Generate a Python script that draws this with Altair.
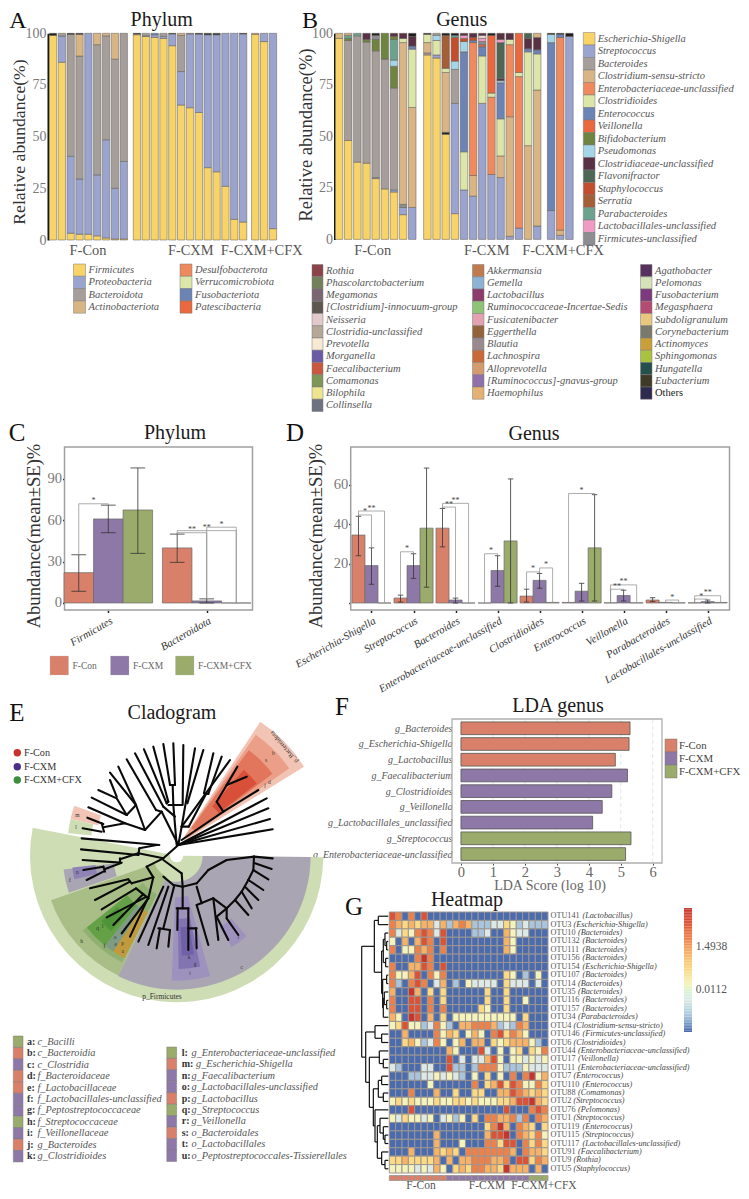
import json, math
import altair as alt
import pandas as pd
import numpy as np

FONT = "Liberation Serif"
W, H = 733, 1183
layers = []
ONE = pd.DataFrame({"a": [0]})

def sc(dom, rng):
    return alt.Scale(domain=list(dom), range=list(rng), nice=False, zero=False)

class P:
    def __init__(s, x0, x1, y0, y1, xdom, ydom):
        s.xs = sc(xdom, [x0 - 8, x1 - 8]); s.ys = sc(ydom, [y1 - 8, y0 - 8])
        s.x0, s.x1, s.y0, s.y1 = x0, x1, y0, y1
        s.xdom, s.ydom = xdom, ydom
    def X(s, f, **k): return alt.X(f + ":Q", scale=s.xs, axis=k.pop("axis", None), **k)
    def Y(s, f, **k): return alt.Y(f + ":Q", scale=s.ys, axis=k.pop("axis", None), **k)

def text(t, x, y, size=12, color="#333", style="normal", angle=0, align="center", weight="normal"):
    layers.append(alt.Chart(ONE).mark_text(text=t, font=FONT, fontSize=size, color=color, fontStyle=style,
        angle=angle, align=align, baseline="middle", fontWeight=weight).encode(x=alt.value(x - 8), y=alt.value(y - 8)))

def rects(p, df, stroke="#777", sw=0.6, fillf="c", **enc):
    layers.append(alt.Chart(df).mark_rect(stroke=stroke, strokeWidth=sw).encode(
        x=p.X("x0"), x2=alt.X2("x1"), y=p.Y("y0"), y2=alt.Y2("y1"),
        fill=alt.Fill(fillf + ":N", scale=None)))

def rules(p, rows, color="#222", sw=1.0, cap="butt", dash=None):
    df = pd.DataFrame(rows, columns=["x0", "y0", "x1", "y1"])
    kw = {"strokeDash": dash} if dash else {}
    layers.append(alt.Chart(df).mark_rule(color=color, strokeWidth=sw, strokeCap=cap, **kw).encode(
        x=p.X("x0"), x2=alt.X2("x1"), y=p.Y("y0"), y2=alt.Y2("y1")))

def frame(p, color="#A0A0A0", sw=1.5):
    df = pd.DataFrame({"x0": [p.xdom[0]], "x1": [p.xdom[1]], "y0": [p.ydom[0]], "y1": [p.ydom[1]]})
    layers.append(alt.Chart(df).mark_rect(fill="white", fillOpacity=0, stroke=color, strokeWidth=sw).encode(
        x=p.X("x0"), x2=alt.X2("x1"), y=p.Y("y0"), y2=alt.Y2("y1")))

def legend(items, x0, x1, y0, pitch, size=10.5, tx=None, style="italic", color="#555"):
    n = len(items)
    p = P(x0, x1, y0, y0 + pitch * n, [0, 1], [n, 0])
    base = tx if tx is not None else x1 + 3
    xs = base if isinstance(base, list) else [base] * n
    df = pd.DataFrame({"x0": 0, "x1": 1, "y0": [i for i in range(n)], "y1": [i + 1 for i in range(n)],
                       "c": [c for _, c in items], "t": [t for t, _ in items], "m": [i + .5 for i in range(n)],
                       "xp": [v - 8 for v in xs]})
    rects(p, df, stroke="#7a7a7a", sw=0.5)
    plain = df[df.t != "Others"]
    layers.append(alt.Chart(plain).mark_text(font=FONT, fontSize=size, fontStyle=style, color=color, align="left", baseline="middle")
        .encode(x=alt.X("xp:Q", scale=None), y=p.Y("m"), text="t:N"))
    other = df[df.t == "Others"]
    if len(other):
        layers.append(alt.Chart(other).mark_text(font=FONT, fontSize=size, color="#222", align="left", baseline="middle")
            .encode(x=alt.X("xp:Q", scale=None), y=p.Y("m"), text="t:N"))

def lab_expr(lst):
    return json.dumps(lst) + "[datum.value]"

# ------------------------------------------------------------ colours
CON, CXM, CFX = "#D9806A", "#8E78A8", "#9AAB6B"
PHY = {"Firmicutes": "#F7D368", "Proteobacteria": "#9AA4CE", "Bacteroidota": "#A69E9B", "Actinobacteriota": "#D9B585",
       "Desulfobacterota": "#EF8A5E", "Verrucomicrobiota": "#DCE6A8", "Fusobacteriota": "#6C83B5", "Patescibacteria": "#E9683E"}
GEN = {"Escherichia-Shigella": "#F7D368", "Streptococcus": "#9AA4CE", "Bacteroides": "#A69E9B", "Clostridium-sensu-stricto": "#D9B585",
       "Enterobacteriaceae-unclassified": "#EF8A5E", "Clostridioides": "#DCE6A8", "Enterococcus": "#6C83B5", "Veillonella": "#E9683E",
       "Bifidobacterium": "#6F8440", "Pseudomonas": "#A5D6E8", "Clostridiaceae-unclassified": "#5A3045", "Flavonifractor": "#4E6656",
       "Staphylococcus": "#C34E2D", "Serratia": "#A45E38", "Parabacteroides": "#6BA38F", "Lactobacillales-unclassified": "#EE9CC3",
       "Firmicutes-unclassified": "#8C8E92"}
GEN_C1 = [("Rothia", "#8B4248"), ("Phascolarctobacterium", "#74805A"), ("Megamonas", "#7A6673"), ("[Clostridium]-innocuum-group", "#5E5750"),
          ("Neisseria", "#E4C9CB"), ("Clostridia-unclassified", "#B5A899"), ("Prevotella", "#F8E9D3"), ("Morganella", "#6A5BA5"),
          ("Faecalibacterium", "#C9583F"), ("Comamonas", "#7F9659"), ("Bilophila", "#EEE58F"), ("Collinsella", "#6E7180")]
GEN_C2 = [("Akkermansia", "#C17A4E"), ("Gemella", "#8DB3D4"), ("Lactobacillus", "#8C3B6A"), ("Ruminococcaceae-Incertae-Sedis", "#8FC477"),
          ("Fusicatenibacter", "#E2A2B2"), ("Eggerthella", "#94633A"), ("Blautia", "#998A90"), ("Lachnospira", "#C96A38"),
          ("Alloprevotella", "#D49B6E"), ("[Ruminococcus]-gnavus-group", "#9070A8"), ("Haemophilus", "#E4B173")]
GEN_C3 = [("Agathobacter", "#57325F"), ("Pelomonas", "#D6E2B8"), ("Fusobacterium", "#7C3A7E"), ("Megasphaera", "#B54B72"),
          ("Subdoligranulum", "#E8C77F"), ("Corynebacterium", "#7A7A6C"), ("Actinomyces", "#C9A037"), ("Sphingomonas", "#A9C23F"),
          ("Hungatella", "#25504B"), ("Eubacterium", "#3E3A25"), ("Others", "#2D2A50")]
BLACK = "#1c1c1c"

# ------------------------------------------------------------ panel A data: (taxon, cumulative top)
F, R, B, K = "Firmicutes", "Proteobacteria", "Bacteroidota", "Actinobacteriota"
phylum_con = [[(F,99),(BLACK,100)], [(F,86),(R,98.7),(B,100)], [(F,3.3),(R,40.5),(B,99.5),(BLACK,100)],
              [(F,2.8),(R,29.5),(B,89),(K,99.5),(BLACK,100)], [(F,2.8),(R,100)], [(F,2),(R,31.5),(B,94.5),(K,100)],
              [(F,1),(R,48.5),(B,98.8),(K,100)], [(F,.5),(R,25),(B,87.5),(K,100)], [(F,.5),(R,38),(B,100)]]
phylum_cxm = [[(F,99.3),(B,99.7),(BLACK,100)], [(F,98.5),(R,98.8),(B,100)], [(F,98),(R,99.3),("Fusobacteriota",100)], [(F,97.5),(R,98.5),(B,100)],
              [(F,94),(R,99.7),(BLACK,100)], [(F,65.3),(R,81.5),(B,99),(K,100)], [(F,64),(R,99.7),(B,100)], [(F,61.7),(R,99.6),(BLACK,100)],
              [(F,35),(R,99.3),(BLACK,100)], [(F,33),(R,99.3),(BLACK,100)], [(F,26),(R,100)], [(F,10),(R,100)], [(F,8.7),(R,99.7),(BLACK,100)]]
phylum_cfx = [[(F,99.5),(K,100)], [(F,96),(R,100)], [(F,5.5),(R,100)]]

def stack_panel(groups, colors, gaps, bw, p, axis_x, domw=2):
    rows = []; pos = 0
    for gi, g in enumerate(groups):
        for bar in g:
            lo = 0
            for tax, top in bar:
                rows.append(dict(x0=pos, x1=pos + bw, y0=lo, y1=top, c=colors.get(tax, tax)))
                lo = top
            pos += 1
        pos += gaps[gi]
    rects(p, pd.DataFrame(rows), stroke="#5f5a55", sw=0.5)
    ax = alt.Axis(orient="left", offset=-(axis_x - 8), values=[0, 25, 50, 75, 100], ticks=False, labelFont=FONT, labelFontSize=14,
                  labelColor="#7a7a7a", labelPadding=2, domainColor="#111", domainWidth=domw, grid=False, title=None)
    layers.append(alt.Chart(pd.DataFrame({"v": [0, 100]})).mark_point(opacity=0).encode(
        x=alt.value(axis_x - 8), y=alt.Y("v:Q", scale=p.ys, axis=ax)))

pA = P(49.3, 276.7, 33.3, 240, [0, 25.7], [0, 100])
stack_panel([phylum_con, phylum_cxm, phylum_cfx], PHY, [.49, .37, 0], .83, pA, 48)

# ------------------------------------------------------------ panel B data
ES, ST, BA, CS, EN, CD, EC, VE, BI, PS, CL, FL, SA, SE, PA, LA, FI = list(GEN)
genus_con = [[(ES,97.5),(CS,100)], [(ES,48),(BA,96.5),(BI,97.5),(PA,99),(CS,100)], [(ES,37.5),(BA,98.8),(PA,100)],
             [(ES,37),(BA,95.8),(BI,97),(CL,100)], [(ES,29.5),(ST,30),(BA,91.5),(BI,97),(FI,99),(BLACK,100)], [(ES,24.5),(BA,87.5),(BI,100)],
             [(ES,23),(ST,24),(BA,73.5),(BI,84),(PS,87),(PA,97),(BI,98.5),(CL,100)], [(ES,12),(ST,15.5),(FI,17),(CS,95.5),(CD,97.5),(CL,100)],
             [(ST,15.5),(CS,64),(CD,92.3),(EC,93.8),(CL,98.5),(BLACK,100)]]
genus_cxm = [[(ES,89.5),(BA,90.5),(CS,95.5),(CD,99.5),(BLACK,100)], [(ES,88),(ST,89.5),(CD,96.5),(PS,99),(BA,100)],
             [(ES,51),(BLACK,52),(CS,81),(CD,83),(SE,99),(BLACK,100)], [(ES,12.5),(ST,66),(BA,82.5),(PS,86.5),(SA,98),(PA,99),(BLACK,100)],
             [(ST,24),(CD,42.5),(EC,91),(PS,96),(SA,97.5),(LA,99),(CL,100)], [(ST,21),(CS,31),(EN,95.5),(EC,96.5),(SA,98),(CL,100)],
             [(ST,66),(CD,89),(EC,93.5),(VE,94.5),(FI,96),(LA,97.5),("#EBD5D5",99),(CL,100)], [(ST,31.5),(EN,69),(CD,71),(VE,99),(BLACK,100)],
             [(ST,30),(CS,40.5),(CD,58.5),(EC,76),(PS,77),(CL,78),(FL,95.5),(LA,97),(CL,100)], [(ST,1.5),(CS,59.5),(EN,94.5),(CD,97),(CL,100)],
             [(ST,5.5),(EN,79),(CD,81),(VE,100)], [(CS,45.5),(CD,91),(EC,92.5),(CL,97.5),(FL,100)], [(ST,6.5),(CS,72.5),(CD,90),(EC,92),(CL,98),(CS,100)]]
genus_cfx = [[(ST,14),(EC,95.5),(PS,99.5),(BLACK,100)], [(ST,2),(CS,4.5),(EN,98),(EC,99.5),(BLACK,100)], [(ST,98.5),(BLACK,100)]]
pB = P(335.3, 574, 33.3, 239.4, [0, 26.08], [0, 100])
stack_panel([genus_con, genus_cxm, genus_cfx], GEN, [.65, .52, 0], .82, pB, 334.5)

for t, x, y in [("F-Con", 88, 250.5), ("F-CXM", 190.7, 250.5), ("F-CXM+CFX", 261.7, 250.5),
                ("F-Con", 372.7, 250.5), ("F-CXM", 486.7, 250.5), ("F-CXM+CFX", 563, 250.5)]:
    text(t, x, y, 14.4, "#555")
text("Relative abundance(%)", 20, 142, 17.7, "#333", angle=270)
text("Relative abundance(%)", 306, 135, 18.5, "#333", angle=270)

# legends under A / B
legend([(k, PHY[k]) for k in list(PHY)[:4]], 73.5, 85.5, 264, 12.3)
legend([(k, PHY[k]) for k in list(PHY)[4:]], 180, 192, 264, 12.3)
legend(GEN_C1, 312, 323, 264.5, 12.25)
legend(GEN_C2, 472.5, 484, 264.5, 12.25)
legend(GEN_C3, 640.5, 652, 264.5, 12.25)
legend(list(GEN.items()), 583.3, 595, 32.5, 12.5, tx=597.7)

# ------------------------------------------------------------ panels C / D
def bar_panel(p, cats, vals, lows, highs, brackets, bw, capw, yvals, title_x, blank0=False, off=None):
    off = off if off is not None else bw
    cols = [CON, CXM, CFX]
    rows = []; caps = []; stems = []
    for i, _ in enumerate(cats):
        for j in range(3):
            cx = i + (j - 1) * off
            rows.append(dict(x0=cx - bw / 2, x1=cx + bw / 2, y0=0, y1=vals[i][j], c=cols[j]))
            if highs[i][j] is not None:
                stems.append((cx, lows[i][j], cx, highs[i][j]))
                caps.append((cx - capw / 2, lows[i][j], cx + capw / 2, lows[i][j]))
                caps.append((cx - capw / 2, highs[i][j], cx + capw / 2, highs[i][j]))
    frame(p)
    rects(p, pd.DataFrame(rows), stroke="#6a6a6a", sw=0.7)
    rules(p, stems, "#333", 0.8); rules(p, caps, "#333", 0.8)
    segs = []; stars = []
    for c, a, b, y, s in brackets:
        xa, xb = c + (a - 1) * off, c + (b - 1) * off
        ha = highs[c][a] if highs[c][a] is not None else vals[c][a]
        hb = highs[c][b] if highs[c][b] is not None else vals[c][b]
        segs += [(xa, y, xb, y), (xa, y, xa, ha), (xb, y, xb, hb)]
        stars.append(dict(x=(xa + xb) / 2, y=y, s=s))
    rules(p, segs, "#8a8a8a", 0.7)
    layers.append(alt.Chart(pd.DataFrame(stars)).mark_text(font=FONT, fontSize=8, color="#444", dy=-2.5, baseline="middle")
                  .encode(x=p.X("x"), y=p.Y("y"), text="s:N"))
    yax = alt.Axis(orient="left", offset=-(p.x0 - 8), values=yvals, tickSize=2, tickWidth=1.5, tickColor="#222", labelFont=FONT,
                   labelFontSize=14.5, labelColor="#7a7a7a", labelPadding=1, domain=False, grid=False, title=None,
                   labelExpr="datum.value==0?'':datum.label" if blank0 else "datum.label")
    xax = alt.Axis(orient="bottom", offset=(p.y1 - 8) - H, values=list(range(len(cats))), labelExpr=lab_expr(cats), tickSize=2.5,
                   tickWidth=1.5, tickColor="#222", labelFont=FONT, labelFontSize=10.8, labelFontStyle="italic", labelColor="#333",
                   labelAngle=-30, labelAlign="right", labelBaseline="top", labelPadding=2, domain=False, grid=False, title=None, labelOverlap=False)
    layers.append(alt.Chart(pd.DataFrame({"x": [p.xdom[0]], "y": [p.ydom[0]]})).mark_point(opacity=0).encode(
        x=alt.X("x:Q", scale=p.xs, axis=xax), y=alt.Y("y:Q", scale=p.ys, axis=yax)))
    text("Abundance(mean±SE)%", title_x, 536, 18.6, "#333", angle=270)

phylum_cats = ["Firmicutes", "Bacteroidota"]
phylum_vals = [[22, 61, 67.5], [40, 1.5, 0]]
phylum_low = [[8.5, 51, 36], [29.5, 0, None]]
phylum_high = [[35, 71, 98], [50, 3, None]]
phylum_br = [(0, 0, 1, 72, "*"), (1, 0, 1, 51, "**"), (1, 0, 2, 52.5, "**"), (1, 1, 2, 55, "*")]
pC = P(64.5, 252.5, 447, 610, [-.445, 1.465], [-5.08, 113.2])
bar_panel(pC, phylum_cats, phylum_vals, phylum_low, phylum_high, phylum_br, .30, .15, [0, 30, 60, 90], 34)

genus_cats = ["Escherichia-Shigella", "Streptococcus", "Bacteroides", "Enterobacteriaceae-unclassified", "Clostridioides",
              "Enterococcus", "Veillonella", "Parabacteroides", "Lactobacillales-unclassified"]
genus_vals = [[34.5, 19, 0], [2.5, 19, 38], [38, 1.5, 0], [0, 16.5, 31.5], [3.5, 11.5, .3], [.3, 6, 28], [.1, 3.8, .1], [1.5, .3, .1], [.1, .7, .3]]
genus_low = [[24, 9.5, None], [.5, 12.5, 8], [28.5, 0, None], [None, 8.5, 0], [.5, 7.5, None], [None, 1, 1], [None, 1, None], [.7, None, None], [None, 0, None]]
genus_high = [[44, 28, None], [4, 25, 68.5], [48, 2.5, None], [None, 24, 63], [7, 15, None], [None, 10, 55], [None, 6.5, None], [2.7, None, None], [None, 1.5, None]]
genus_br = [(0, 0, 1, 44.7, "*"), (0, 0, 2, 46.7, "**"), (1, 0, 1, 26, "*"), (2, 0, 1, 48.7, "**"), (2, 0, 2, 50.6, "**"), (3, 0, 1, 25, "*"),
            (4, 0, 1, 15.8, "*"), (4, 1, 2, 17.8, "*"), (5, 0, 2, 55.6, "*"), (6, 0, 1, 7, "**"), (6, 0, 2, 9.2, "**"), (7, 1, 2, 1.5, "*"),
            (8, 0, 1, 2, "*"), (8, 0, 2, 3.7, "**")]
pD = P(350.7, 729.5, 447, 610, [-.495, 8.52], [-3.55, 79.2])
bar_panel(pD, genus_cats, genus_vals, genus_low, genus_high, genus_br, .31, .13, [0, 20, 40, 60], 316, blank0=True)

# legend C (horizontal)
for x0, x1, c, t in [(50, 68.5, CON, "F-Con"), (110.5, 129, CXM, "F-CXM"), (175.5, 194, CFX, "F-CXM+CFX")]:
    pL = P(x0, x1, 656, 675, [0, 1], [0, 1])
    rects(pL, pd.DataFrame({"x0": [0], "x1": [1], "y0": [0], "y1": [1], "c": [c]}), stroke="#bbb", sw=0.3)
    text(t, x1 + 4, 666, 9.5, "#666", align="left")

# ------------------------------------------------------------ panel E : cladogram
pE = P(0, 330, 670, 1010, [0, 990], [1020, 0])
C1 = (530, 557); C2 = (538, 522)
GREEN_PALE, GREY = "#CFDDB5", "#A9A5B3"
wedges = [
    (C1, 90.6, 281, 20, 440, GREEN_PALE), (C1, 90.6, 206, 78, 402, GREY), (C1, 206, 250.5, 70, 400, "#A9BE87"),
    (C1, 207, 231.4, 130, 360, "#8FB070"), (C1, 218.5, 231.4, 190, 345, "#64A046"), (C1, 221, 229, 235, 300, "#4F9438"),
    (C1, 213.5, 218.5, 190, 345, "#7F9A85"), (C1, 207, 213.5, 190, 345, "#C09A3C"),
    (C1, 251, 263, 190, 342, GREY), (C1, 257, 263.5, 245, 315, "#8F82B5"),
    (C1, 164.5, 182.3, 125, 375, "#9D92BE"), (C1, 168, 179, 190, 340, "#8274B0"), (C1, 170, 177, 215, 300, "#7060A8"),
    (C1, 139, 149, 250, 320, "#9D92BE"),
    (C2, 33.5, 58.2, 20, 440, "#F2C4B5"), (C2, 35, 55.5, 30, 400, "#EC9F88"), (C2, 36.5, 53, 60, 350, "#E2765C"), (C2, 41, 52, 150, 295, "#D9503A"),
    (C2, 283, 290, 250, 335, "#F2C4B5"), (C2, 275.5, 283, 265, 335, GREEN_PALE),
]
wd = pd.DataFrame([dict(cx=c[0], cy=c[1], t0=math.radians(a), t1=math.radians(b), r0=r0 / 3, r1=r1 / 3, c=col)
                   for c, a, b, r0, r1, col in wedges])
for _, row in wd.iterrows():
    layers.append(alt.Chart(pd.DataFrame([row.to_dict()])).mark_arc(stroke=None).encode(
        x=pE.X("cx"), y=pE.Y("cy"), theta=alt.Theta("t0:Q", scale=None), theta2=alt.Theta2("t1:Q"),
        radius=alt.Radius("r1:Q", scale=None), radius2=alt.Radius2("r0:Q"), fill=alt.Fill("c:N", scale=None)))

tree_edges = [
    (262,443,310,462),(248,475,305,485),(305,460,312,485),(310,472,375,460),(265,412,375,460),(275,383,380,435),(295,360,350,385),
    (330,330,350,380),(350,385,380,435),(330,308,408,405),(355,290,408,405),(380,268,468,420),(405,250,490,410),(432,238,500,400),
    (460,230,505,395),(490,222,510,345),(520,220,525,345),(510,345,525,345),(518,345,520,405),(550,225,548,405),(585,235,545,470),
    (610,240,562,400),(640,250,612,370),(665,260,625,372),(612,370,625,372),(618,372,566,470),(690,270,545,470),(505,405,545,405),
    (375,460,435,480),(380,435,408,405),(435,480,485,425),(408,405,435,480),(468,420,485,425),(490,410,525,440),(505,395,500,400),
    (485,425,535,525),(520,405,530,525),(545,470,535,525),(566,470,545,470),
    (712,290,680,345),(740,320,680,345),(680,345,650,395),(775,360,670,425),(650,395,670,425),(670,425,545,510),
    (800,385,535,525),(805,415,535,525),(810,447,535,525),(818,478,535,525),
    (535,525,490,565),(245,505,478,525),(243,538,415,555),(248,570,360,578),(415,555,418,535),(418,535,470,525),(415,550,490,565),
    (360,578,360,565),(360,568,415,550),(250,600,310,590),(260,630,310,605),(310,590,315,605),(315,597,365,578),
    (490,565,440,590),(440,590,460,622),(270,655,385,628),(285,690,390,635),(385,628,395,640),(395,640,460,622),(305,718,408,655),
    (320,742,440,680),(340,765,430,672),(365,790,445,685),(390,800,445,682),(408,655,445,685),(445,685,460,622),
    (490,570,545,610),(545,610,548,650),(490,620,520,645),(520,645,548,650),(548,650,590,640),(590,640,625,600),(625,600,680,570),(680,570,762,560),
    (548,650,548,715),(530,715,565,715),(533,715,532,780),(565,715,565,775),(565,775,590,775),(565,775,565,840),(588,775,590,835),
    (490,650,415,815),(505,650,445,825),(522,650,490,775),(475,775,510,780),(480,775,470,835),(510,780,505,830),
    (590,650,605,700),(590,705,640,685),(590,705,625,825),(640,685,655,810),(640,685,680,715),(650,740,680,715),(650,740,685,810),(680,745,715,795),(680,715,680,745),
    (762,560,818,565),(765,580,815,597),(760,600,805,628),(745,630,790,660),(735,650,775,690),(725,665,755,715),(705,690,745,735),
    (762,560,760,600),(760,600,745,630),(745,630,725,665),(725,665,705,690),(705,690,680,715),
]
rules(pE, tree_edges, "#0a0a0a", 2.1, cap="round")
tree_letters = [(245,812,"h"),(313,828,"f"),(570,910,"t"),(725,890,"c"),(585,883,"g"),(567,860,"k"),(715,800,"i"),(232,436,"m"),(228,470,"l"),
                (210,630,"f"),(232,605,"n"),(293,773,"q"),(308,768,"l"),(345,800,"o"),(347,822,"e"),(368,820,"p"),(368,842,"a"),(820,250,"b"),(798,270,"s"),(808,335,"d"),(795,345,"j")]
layers.append(alt.Chart(pd.DataFrame(tree_letters, columns=["x", "y", "s"])).mark_text(font=FONT, fontSize=5.5, color="#333", baseline="middle")
              .encode(x=pE.X("x"), y=pE.Y("y"), text="s:N"))
text("p_Firmicutes", 162, 997, 7.5, "#333")
text("p_Bacteroidota", 284, 747, 6.5, "#333", angle=230)
for (c, t, y) in [("#C8322B", "F-Con", 752.7), ("#4A2F8A", "F-CXM", 766.7), ("#3E8E3E", "F-CXM+CFX", 780)]:
    layers.append(alt.Chart(ONE).mark_circle(size=55, color=c, opacity=1).encode(x=alt.value(17.3 - 8), y=alt.value(y - 8)))
    text(t, 24, y, 10.2, "#333", align="left")

clade_left = [("a", "c_Bacilli", CFX), ("b", "c_Bacteroidia", CON), ("c", "c_Clostridia", CXM), ("d", "f_Bacteroidaceae", CON),
              ("e", "f_Lactobacillaceae", CON), ("f", "f_Lactobacillales-unclassified", CXM), ("g", "f_Peptostreptococcaceae", CXM),
              ("h", "f_Streptococcaceae", CFX), ("i", "f_Veillonellaceae", CXM), ("j", "g_Bacteroides", CON), ("k", "g_Clostridioides", CXM)]
clade_right = [("l", "g_Enterobacteriaceae-unclassified", CFX), ("m", "g_Escherichia-Shigella", CON), ("n", "g_Faecalibacterium", CXM),
               ("o", "g_Lactobacillales-unclassified", CXM), ("p", "g_Lactobacillus", CON), ("q", "g_Streptococcus", CFX), ("r", "g_Veillonella", CXM),
               ("s", "o_Bacteroidales", CON), ("t", "o_Lactobacillales", CXM), ("u", "o_Peptostreptococcales-Tissierellales", CXM)]
for rows_, x0, x1, y0, lx, nx in [(clade_left, 13.3, 23, 1036, 27, 37.5), (clade_right, 166.8, 176.6, 1047, 181.7, 191.5)]:
    names = [(nx + 4.5 if l == "m" else nx) for l, _, _ in rows_]
    legend([(n, c) for _, n, c in rows_], x0, x1, y0, 11.45, size=10.3, tx=names)
    for i, (l, _, _) in enumerate(rows_):
        text(l + ":", lx, y0 + 11.45 * (i + .5), 10, "#333", align="left", weight="bold")

# ------------------------------------------------------------ panel F
lda_names = ["g_Bacteroides", "g_Escherichia-Shigella", "g_Lactobacillus", "g_Faecalibacterium", "g_Clostridioides", "g_Veillonella",
             "g_Lactobacillales_unclassified", "g_Streptococcus", "g_Enterobacteriaceae-unclassified"]
lda_vals = [5.29, 5.26, 4.83, 5.21, 4.72, 4.42, 4.12, 5.32, 5.15]
lda_cols = [CON, CON, CON, CXM, CXM, CXM, CXM, CFX, CFX]
pF = P(452, 662, 719, 863, [-.28, 6.29], [8.57, -.59])
rules(pF, [(v, -.59, v, 8.57) for v in range(1, 7)], "#dddddd", 0.8, dash=[4, 3])
df_f = pd.DataFrame({"x0": 0, "x1": lda_vals, "y0": [i - .405 for i in range(9)], "y1": [i + .405 for i in range(9)], "c": lda_cols})
rects(pF, df_f, stroke="#555", sw=0.8)
frame(pF, "#B0B0B0", 1.3)
xaxF = alt.Axis(orient="bottom", offset=(863 - 8) - H, values=list(range(7)), tickSize=2, tickColor="#444", labelFont=FONT, labelFontSize=14.5,
                labelColor="#666", labelPadding=0, domain=False, grid=False, title=None, labelAngle=0, format="d")
yaxF = alt.Axis(orient="left", offset=-(452 - 8), values=list(range(9)), labelExpr=lab_expr(lda_names), ticks=False, labelFont=FONT, labelFontSize=10,
                labelFontStyle="italic", labelColor="#555", labelPadding=0, domain=False, grid=False, title=None)
layers.append(alt.Chart(pd.DataFrame({"x": [0], "y": [0]})).mark_point(opacity=0).encode(
    x=alt.X("x:Q", scale=pF.xs, axis=xaxF), y=alt.Y("y:Q", scale=pF.ys, axis=yaxF)))
text("LDA Score (log 10)", 550, 886, 14, "#666")
legend([("F-Con", CON), ("F-CXM", CXM), ("F-CXM+CFX", CFX)], 665, 677, 739, 13, size=10.8, style="normal", color="#444", tx=679)

# ------------------------------------------------------------ panel G : heatmap
otu_ids = ["OTU141","OTU3","OTU10","OTU132","OTU111","OTU156","OTU154","OTU107","OTU14","OTU35","OTU116","OTU157","OTU34","OTU4","OTU146","OTU6",
           "OTU44","OTU17","OTU11","OTU7","OTU110","OTU88","OTU2","OTU76","OTU1","OTU119","OTU115","OTU117","OTU91","OTU9","OTU5"]
otu_taxa = ["Lactobacillus","Escherichia-Shigella","Bacteroides","Bacteroides","Bacteroides","Bacteroides","Escherichia-Shigella","Bacteroides","Bacteroides",
            "Bacteroides","Bacteroides","Bacteroides","Parabacteroides","Clostridium-sensu-stricto","Firmicutes-unclassified","Clostridioides",
            "Enterobacteriaceae-unclassified","Veillonella","Enterobacteriaceae-unclassified","Enterococcus","Enterococcus","Comamonas","Streptococcus",
            "Pelomonas","Streptococcus","Enterococcus","Streptococcus","Lactobacillales-unclassified","Faecalibacterium","Rothia","Staphylococcus"]
heat_rows = [
 "7606070000000000000000000", "6545455251565111224312111", "6243676270000112005322000", "3050576070000000005300000",
 "6033656060000000005300000", "0000686000000000000000000", "6005576070000000000000000", "6335706360000000004301030",
 "6106760250103222204222020", "5008504040000004004000000", "6007706040000004004003000", "6007706060000043004000000",
 "5308705040333333333304000", "3473312631055666512165000", "0050000635403530674653000", "0045312630350550434555310",
 "0000000005300072030340436", "0000000007020225730332323", "2100022007110166631113222", "0001122323210304030606835",
 "0000003000000604574763364", "0006000500400440055765454", "3434333433443433344577854", "0007000000000000007000676",
 "3243323023130406655616065", "0000000000000004685065404", "0000000500000005778065463", "0000000500030006647706464",
 "0005000545406666666506554", "4454444505055666556077465", "3333232530454665548555050",
]
HEAT = ["#4A6BAE", "#A9C4DD", "#DDE9E6", "#F4F3BC", "#FBD985", "#F8B266", "#EE8149", "#DD5235", "#C8342B"]
pG = P(389.3, 548, 912, 1173, [0, 25], [31, 0])
hm = pd.DataFrame([dict(x0=c, x1=c + 1, y0=r, y1=r + 1, v=int(ch)) for r, row in enumerate(heat_rows) for c, ch in enumerate(row)])
layers.append(alt.Chart(hm).mark_rect(stroke="#9C9690", strokeWidth=1).encode(
    x=pG.X("x0"), x2=alt.X2("x1"), y=pG.Y("y0"), y2=alt.Y2("y1"),
    fill=alt.Fill("v:Q", scale=alt.Scale(domain=list(range(9)), range=HEAT), legend=None)))
tx_df = pd.DataFrame({"m": [i + .5 for i in range(31)], "o": otu_ids, "g": ["(" + t + ")" for t in otu_taxa],
                      "xo": [550.5 - 8] * 31, "xg": [550.5 - 8 + 4.5 * len(o) + 5.0 for o in otu_ids]})
layers.append(alt.Chart(tx_df).mark_text(font=FONT, fontSize=8.2, color="#555", align="left", baseline="middle").encode(
    x=alt.X("xo:Q", scale=None), y=pG.Y("m"), text="o:N"))
layers.append(alt.Chart(tx_df).mark_text(font=FONT, fontSize=8.2, fontStyle="italic", color="#444", align="left", baseline="middle").encode(
    x=alt.X("xg:Q", scale=None), y=pG.Y("m"), text="g:N"))

ann = [CON] * 9 + [CXM] * 13 + [CFX] * 3
pAn = P(389.3, 548, 1175.5, 1180.5, [0, 25], [0, 1])
rects(pAn, pd.DataFrame({"x0": range(25), "x1": range(1, 26), "y0": 0, "y1": 1, "c": ann}), stroke="#9C9690", sw=0.8)
for t, x in [("F-Con", 421), ("F-CXM", 487), ("F-CXM+CFX", 544)]:
    text(t, x, 1185.5, 11.5, "#555")

# dendrogram of rows: nested (x position, left, right)
dendro = (125,
          (163, (175, 0, 1), (185, (190, (195, 2, (200, 3, 4)), (197, 5, 6)), (188, (200, 7, 8), (190, (193, 9, (200, 10, 11)), 12)))),
          (137, (165, 13, (185, 14, 15)),
           (148, (178, 16, (190, 17, 18)),
            (160, (175, (185, 19, 20), (190, 21, 22)),
             (165, 23, (172, (180, 24, (190, 25, (195, 26, 27))), (185, 28, (195, 29, 30))))))))
segs = []
def walk(n):
    if isinstance(n, int):
        return 205, n + .5
    h, a, b = n
    ha, ya = walk(a); hb, yb = walk(b)
    segs.extend([(h, ya, h, yb), (h, ya, ha, ya), (h, yb, hb, yb)])
    return h, (ya + yb) / 2
walk(dendro)
pDen = P(361.7, 388.3, 912, 1173, [125, 205], [31, 0])
rules(pDen, segs, "#111", 1.2)

# colour bar
bar_levels = list(np.linspace(0, 8, 81))
pCB = P(684, 692, 908, 1032, [0, 1], [0, 8])
cb = pd.DataFrame({"x0": 0, "x1": 1, "y0": bar_levels[:-1], "y1": bar_levels[1:], "v": bar_levels[:-1]})
layers.append(alt.Chart(cb).mark_rect().encode(x=pCB.X("x0"), x2=alt.X2("x1"), y=pCB.Y("y0"), y2=alt.Y2("y1"),
    fill=alt.Fill("v:Q", scale=alt.Scale(domain=list(range(9)), range=HEAT), legend=None)))
text("1.4938", 695.7, 947, 11.5, "#555", align="left")
text("0.0112", 695.7, 990, 11.5, "#555", align="left")

# ------------------------------------------------------------ titles
for t, x, y in [("Phylum", 161.7, 20), ("Genus", 461.7, 20), ("Phylum", 175, 433), ("Genus", 534, 434),
                ("Cladogram", 172, 713), ("LDA genus", 558, 706), ("Heatmap", 467, 900)]:
    text(t, x, y, 20, "#1a1a1a")
for t, x, y, s in [("A", 18, 21, 24), ("B", 310, 21, 24), ("C", 17, 433, 25), ("D", 295, 433, 25), ("E", 17, 713, 25), ("F", 342, 707, 25), ("G", 354, 907, 25)]:
    text(t, x, y, s, "#111")

chart = alt.layer(*layers).resolve_scale(x="independent", y="independent", fill="independent", color="independent").properties(
    width=W, height=H, padding=0, autosize=alt.AutoSizeParams(type="none")).configure_view(stroke=None)
chart.save("out.html", embed_options={"renderer": "svg", "actions": False})
